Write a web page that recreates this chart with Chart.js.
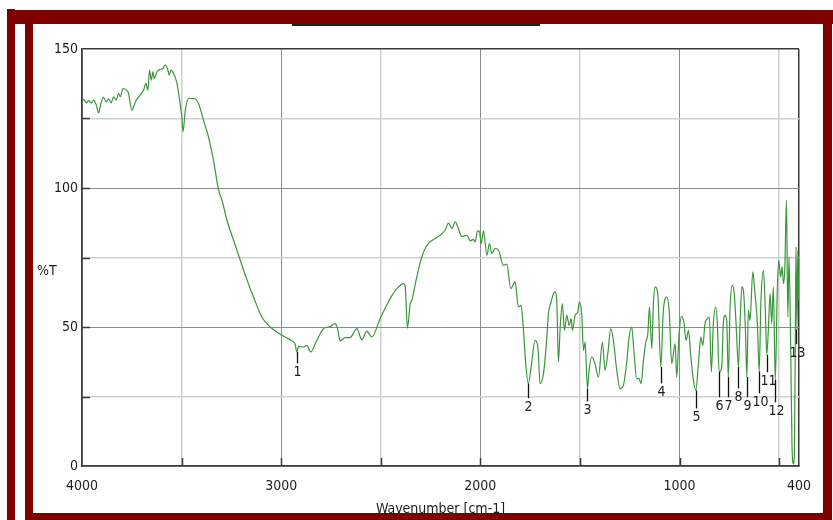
<!DOCTYPE html>
<html>
<head>
<meta charset="utf-8">
<script src="https://cdn.jsdelivr.net/npm/chart.js@4.4.1/dist/chart.umd.min.js"></script>
<style>
  html, body { margin: 0; padding: 0; background: #fff; }
  #wrap { position: relative; width: 833px; height: 520px; overflow: hidden; background: #fff; }
  #c { position: absolute; left: 0; top: 0; }
  .bar { position: absolute; background: #800000; }
  .rule { position: absolute; background: #222; }
</style>
</head>
<body>
<div id="wrap">
  <canvas id="c" width="833" height="520"></canvas>
  <!-- frame -->
  <div class="bar" style="left:7px;top:10px;width:826px;height:14px"></div>
  <div class="bar" style="left:7px;top:9px;width:8px;height:511px"></div>
  <div class="bar" style="left:25px;top:24px;width:8px;height:496px"></div>
  <div class="bar" style="left:823px;top:10px;width:9px;height:510px"></div>
  <div class="bar" style="left:25px;top:513px;width:807px;height:7px"></div>
  <div class="rule" style="left:292px;top:24px;width:248px;height:2px"></div>
</div>

<script>
// ─────────────────────────────────────────────
//  DATA
// ─────────────────────────────────────────────
const wavenumbers = [
  4000,3992,3978,3967,3953,3942,3928,3917,3905,3892,3878,3866,3854,3841,3829,3816,3808,3794,
  3778,3766,3758,3749,3738,3728,3716,3702,3691,3679,3669,3661,3652,3644,3637,3624,3607,3594,
  3582,3570,3562,3553,3540,3523,3510,3498,3493,3481,3465,3440,3415,3390,3365,
  3340,3314,3297,3272,3239,3205,3180,3139,3097,3055,3005,2955,2930,2921,2913,2888,2871,2851,
  2829,2787,2754,2729,2717,2704,2679,2654,2620,2595,2570,2545,2503,2453,2419,2386,2377,2366,
  2352,2344,2319,2294,2268,2235,2202,2177,2160,2143,2126,2114,2093,2068,2051,2034,2026,2014,
  2004,1996,1984,1967,1954,1942,1926,1909,1884,1867,1847,1825,1809,1795,1784,1772,1759,1745,
  1725,1711,1700,1683,1666,1658,1645,1633,1625,1616,1608,1599,1588,1578,1566,1554,1544,1538,
  1524,1511,1503,1491,1482,1474,1462,1454,1440,1424,1407,1387,1374,1360,1345,1332,1315,1298,
  1282,1265,1253,1240,1228,1215,1203,1193,1181,1169,1159,1151,1139,1131,1122,1109,1094,1081,
  1064,1052,1039,1022,1014,1002,989,977,967,955,943,930,918,905,893,883,872,860,850,840,830,
  818,810,801,788,780,771,763,755,746,735,725,716,704,696,687,679,669,662,654,646,632,621,609,
  600,591,579,569,562,554,545,537,529,519,509,502,492,485,478,471,463,456,450,441,435,428,423,
  418,415,410,406,401,400
];
const transmittance = [
  131.0,131.9,130.6,131.4,130.6,131.6,129.8,127.0,130.4,132.6,131.0,132.2,130.6,132.8,131.6,134.0,132.8,135.8,
  135.2,134.0,130.4,128.0,129.8,131.6,132.8,134.0,135.2,137.6,135.2,142.4,138.8,141.8,139.4,141.8,142.7,143.0,
  144.2,142.7,140.6,142.4,141.2,137.6,131.6,125.0,120.2,128.0,132.2,132.2,130.4,124.4,118.4,
  110.0,99.2,95.6,88.4,81.2,74.0,68.6,60.8,53.6,50.0,47.4,45.4,43.8,41.0,43.0,42.8,43.4,41.0,
  44.0,49.4,50.2,51.2,49.4,45.0,46.2,46.2,49.4,45.4,48.5,46.4,53.0,60.2,63.8,65.6,64.4,49.6,
  58.4,59.6,68.0,75.2,79.4,81.5,83.0,84.8,87.4,85.4,87.8,86.2,82.6,83.0,81.0,81.5,80.6,84.6,
  84.2,80.0,84.6,75.8,80.0,76.4,78.2,77.6,72.2,72.6,63.8,66.2,57.2,57.8,49.4,36.8,29.6,35.6,
  45.2,42.8,29.6,33.2,46.4,54.8,59.0,62.0,62.6,59.0,37.4,50.0,58.4,48.8,54.2,50.6,53.0,48.8,
  54.2,55.4,59.0,54.8,41.6,44.6,27.8,34.4,39.2,36.8,32.0,44.6,34.4,40.4,49.4,45.2,34.4,27.8,
  29.0,37.4,46.4,50.0,40.4,31.4,31.4,29.6,38.0,44.6,47.6,57.2,42.2,58.4,64.4,62.0,35.6,56.0,
  60.8,56.0,36.8,44.0,32.0,47.6,53.8,51.2,45.2,48.8,39.2,30.8,27.2,36.8,46.4,43.4,51.2,53.0,53.6,33.8,51.2,
  57.2,51.2,33.8,35.6,51.2,54.2,52.4,32.0,57.2,65.0,62.0,51.2,35.6,51.2,64.4,63.2,48.8,32.0,56.0,52.4,69.8,62.0,51.2,
  34.0,59.6,70.4,56.0,40.0,48.8,62.0,51.2,64.4,31.0,63.2,74.0,68.0,71.6,65.6,71.6,95.6,53.6,75.2,39.2,6.8,0.8,5.6,
  51.2,78.8,48.8,77.6,59.6,69.0
];

const xTicks = [4000, 3500, 3000, 2500, 2000, 1500, 1000, 500, 400];
const xLabelled = [4000, 3000, 2000, 1000, 400];
const yTicks = [0, 25, 50, 75, 100, 125, 150];
const yLabelled = [0, 50, 100, 150];

// peak markers: number, wavenumber, %T at curve, %T at end of marker line
const peakNumbers = ['1','2','3','4','5','6','7','8','9','10','11','12','13'];
const peakWn      = [2921, 1759, 1462, 1094, 918, 801, 755, 704, 662, 600, 562, 519, 415];
const peakT       = [41.0, 29.6, 27.8, 35.6, 27.2, 33.8, 32.0, 35.6, 32.0, 34.0, 40.0, 31.0, 49.0];
const peakTickT   = [36.9, 24.4, 23.2, 29.7, 20.7, 24.7, 24.7, 27.9, 24.7, 26.1, 33.7, 22.9, 43.8];

// ─────────────────────────────────────────────
//  STYLE
// ─────────────────────────────────────────────
const FONT = "'Liberation Sans Narrow', 'DejaVu Sans Condensed', 'Arial Narrow', sans-serif";
const TXT = '#1c1c1c';
const AXIS = '#3a3a3a';
const MAJOR = '#8c8c8c';
const MINOR = '#d0d0d0';

// inward tick marks, peak markers, %T label
const extras = {
  id: 'extras',
  afterDatasetsDraw(chart) {
    const { ctx, chartArea: a, scales: { x, y } } = chart;
    ctx.save();
    ctx.strokeStyle = AXIS;
    ctx.lineWidth = 1.5;
    xTicks.forEach(v => {
      if (v === 4000 || v === 400) return;
      const px = Math.round(x.getPixelForValue(v)) + 0.5;
      ctx.beginPath(); ctx.moveTo(px, a.bottom); ctx.lineTo(px, a.bottom - 8); ctx.stroke();
    });
    yTicks.forEach(v => {
      if (v === 0 || v === 150) return;
      const py = Math.round(y.getPixelForValue(v)) + 0.5;
      ctx.beginPath(); ctx.moveTo(a.left, py); ctx.lineTo(a.left + 8, py); ctx.stroke();
    });

    ctx.strokeStyle = '#111';
    ctx.lineWidth = 1.3;
    ctx.fillStyle = TXT;
    ctx.font = '14px ' + FONT;
    ctx.textAlign = 'center';
    ctx.textBaseline = 'middle';
    peakWn.forEach((wn, i) => {
      const px = Math.round(x.getPixelForValue(wn)) + 0.5;
      const top = y.getPixelForValue(peakT[i]);
      const bot = y.getPixelForValue(peakTickT[i]);
      ctx.beginPath(); ctx.moveTo(px, top); ctx.lineTo(px, bot); ctx.stroke();
      ctx.fillText(peakNumbers[i], px + (peakNumbers[i].length > 1 ? 1 : 0), bot + 9);
    });

    ctx.textAlign = 'left';
    ctx.fillText('%T', a.left - 45, y.getPixelForValue(70));
    ctx.restore();
  }
};

new Chart(document.getElementById('c'), {
  type: 'line',
  data: {
    datasets: [{
      data: wavenumbers.map((w, i) => ({ x: w, y: transmittance[i] })),
      borderColor: '#3a963a',
      borderWidth: 1.2,
      pointRadius: 0,
      cubicInterpolationMode: 'monotone',
      fill: false
    }]
  },
  options: {
    responsive: false,
    devicePixelRatio: 1,
    animation: false,
    layout: { padding: { top: 49, right: 34, left: 0, bottom: 0 } },
    plugins: { legend: { display: false }, tooltip: { enabled: false } },
    scales: {
      x: {
        type: 'linear',
        min: 400, max: 4000,
        reverse: true,
        afterBuildTicks: s => { s.ticks = xTicks.map(v => ({ value: v })); },
        afterFit: s => { s.height = 54; s.paddingLeft = 0; s.paddingRight = 0; },
        ticks: {
          autoSkip: false, maxRotation: 0, padding: 12,
          color: TXT, font: { size: 14, family: FONT },
          callback: v => xLabelled.includes(v) ? String(v) : ''
        },
        grid: {
          drawTicks: false,
          color: c => (c.tick && (c.tick.value === 400)) ? AXIS : (xLabelled.includes(c.tick && c.tick.value) ? MAJOR : MINOR),
          lineWidth: c => (c.tick && c.tick.value === 400) ? 1.5 : (xLabelled.includes(c.tick && c.tick.value) ? 1 : 1.5)
        },
        border: { display: true, color: AXIS, width: 1.5 },
        title: {
          display: true, text: 'Wavenumber [cm-1]', color: TXT,
          font: { size: 14, family: FONT }, padding: { top: 0, bottom: 2 }
        }
      },
      y: {
        min: 0, max: 150,
        afterBuildTicks: s => { s.ticks = yTicks.map(v => ({ value: v })); },
        afterFit: s => { s.width = 82; s.paddingTop = 0; s.paddingBottom = 0; },
        ticks: {
          autoSkip: false, padding: 4,
          color: TXT, font: { size: 14, family: FONT },
          callback: v => yLabelled.includes(v) ? String(v) : ''
        },
        grid: {
          drawTicks: false,
          color: c => (c.tick && c.tick.value === 150) ? AXIS : (yLabelled.includes(c.tick && c.tick.value) ? MAJOR : MINOR),
          lineWidth: c => (c.tick && c.tick.value === 150) ? 1.5 : (yLabelled.includes(c.tick && c.tick.value) ? 1 : 1.5)
        },
        border: { display: true, color: AXIS, width: 1.5 }
      }
    }
  },
  plugins: [extras]
});
</script>
</body>
</html>
